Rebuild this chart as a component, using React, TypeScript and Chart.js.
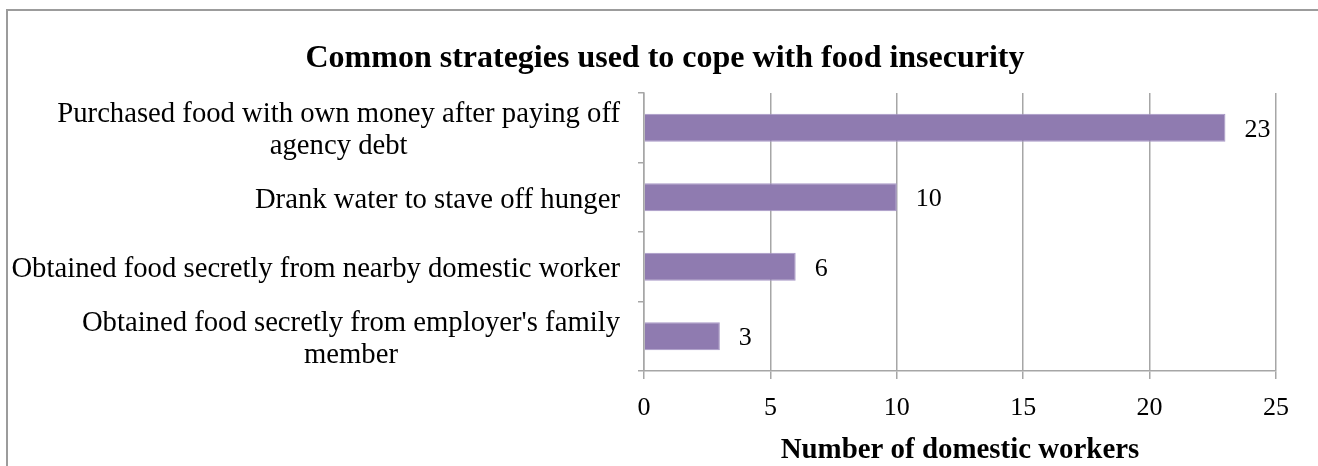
import React, { useEffect, useRef } from "react";
import { Chart, registerables } from "chart.js";

Chart.register(...registerables);

const chartTitle = "Common strategies used to cope with food insecurity";
const axisTitle = "Number of domestic workers";
const categories: string[][] = [
  ["Purchased food with own money after paying off", "agency debt"],
  ["Drank water to stave off hunger"],
  ["Obtained food secretly from nearby domestic worker"],
  ["Obtained food secretly from employer's family", "member"],
];
const values = [23, 10, 6, 3];
const xMin = 0;
const xMax = 25;
const xStep = 5;

const FONT = "'Liberation Serif', 'Times New Roman', serif";
const BAR = "#8f7bb0";
const GRID = "#a6a6a6";

export default function App() {
  const ref = useRef<HTMLCanvasElement | null>(null);

  useEffect(() => {
    document.body.style.margin = "0";
    const canvas = ref.current;
    if (!canvas) return;

    const framePlugin = {
      id: "frame",
      beforeDraw(chart: any) {
        const { ctx, width, height } = chart;
        ctx.save();
        ctx.fillStyle = "#ffffff";
        ctx.fillRect(0, 0, width, height);
        ctx.strokeStyle = "#9c9c9c";
        ctx.lineWidth = 2;
        ctx.beginPath();
        ctx.moveTo(7, height);
        ctx.lineTo(7, 10);
        ctx.lineTo(width, 10);
        ctx.stroke();
        ctx.restore();
      },
      afterDraw(chart: any) {
        const { ctx } = chart;
        ctx.save();
        // chart title
        ctx.fillStyle = "#000";
        ctx.font = `bold 32px ${FONT}`;
        ctx.textAlign = "center";
        ctx.textBaseline = "middle";
        ctx.fillText(chartTitle, 665, 59);
        // category labels, block right-aligned, lines centred within block
        const yScale = chart.scales.y;
        ctx.font = `28.7px ${FONT}`;
        const lh = 32;
        categories.forEach((lines, i) => {
          const cy = yScale.getPixelForValue(i) + 3;
          const w = Math.max(...lines.map((l) => ctx.measureText(l).width));
          const right = chart.chartArea.left - 24;
          const cx = right - w / 2;
          lines.forEach((line, j) => {
            const ly = cy + (j - (lines.length - 1) / 2) * lh;
            ctx.fillText(line, cx, ly);
          });
        });
        // value labels
        const meta = chart.getDatasetMeta(0);
        ctx.font = `26px ${FONT}`;
        ctx.textAlign = "left";
        meta.data.forEach((bar: any, i: number) => {
          ctx.fillText(String(values[i]), bar.x + 19, bar.y + 2);
        });
        ctx.restore();
      },
    };

    const chart = new Chart(canvas, {
      type: "bar",
      data: {
        labels: categories.map((c) => c.join(" ")),
        datasets: [
          {
            data: values,
            backgroundColor: BAR,
            borderColor: "#a898c6",
            borderWidth: 1,
            barPercentage: 0.4,
            categoryPercentage: 1,
          },
        ],
      },
      options: {
        indexAxis: "y",
        animation: false,
        responsive: false,
        maintainAspectRatio: false,
        layout: { padding: { left: 12, right: 42, top: 93, bottom: 0 } },
        plugins: {
          legend: { display: false },
          title: { display: false },
          tooltip: { enabled: false },
        },
        scales: {
          x: {
            type: "linear",
            min: xMin,
            max: xMax,
            afterBuildTicks: (s: any) => {
              const t = [];
              for (let v = xMin; v <= xMax; v += xStep) t.push({ value: v });
              s.ticks = t;
            },
            afterFit: (s: any) => {
              s.height = 95;
            },
            grid: {
              color: GRID,
              lineWidth: 1.5,
              drawTicks: true,
              tickLength: 8,
            },
            border: { display: true, color: GRID, width: 1.5 },
            ticks: {
              color: "#000",
              font: { family: FONT, size: 26 },
              padding: 14,
              maxRotation: 0,
            },
            title: {
              display: true,
              text: axisTitle,
              color: "#000",
              font: { family: FONT, size: 28.9, weight: "bold", lineHeight: 1 },
              padding: { top: 0, bottom: 1 },
            },
          },
          y: {
            type: "category",
            offset: true,
            afterFit: (s: any) => {
              s.width = 632;
            },
            grid: {
              offset: true,
              drawOnChartArea: false,
              drawTicks: true,
              tickLength: 6,
              color: GRID,
              lineWidth: 1.5,
            },
            border: { display: true, color: GRID, width: 1.5 },
            ticks: {
              color: "rgba(0,0,0,0)",
              font: { family: FONT, size: 28 },
            },
          },
        },
      },
      plugins: [framePlugin],
    } as any);

    return () => chart.destroy();
  }, []);

  return (
    <div style={{ width: 1318, height: 466 }}>
      <canvas ref={ref} width={1318} height={466} style={{ display: "block" }} />
    </div>
  );
}
